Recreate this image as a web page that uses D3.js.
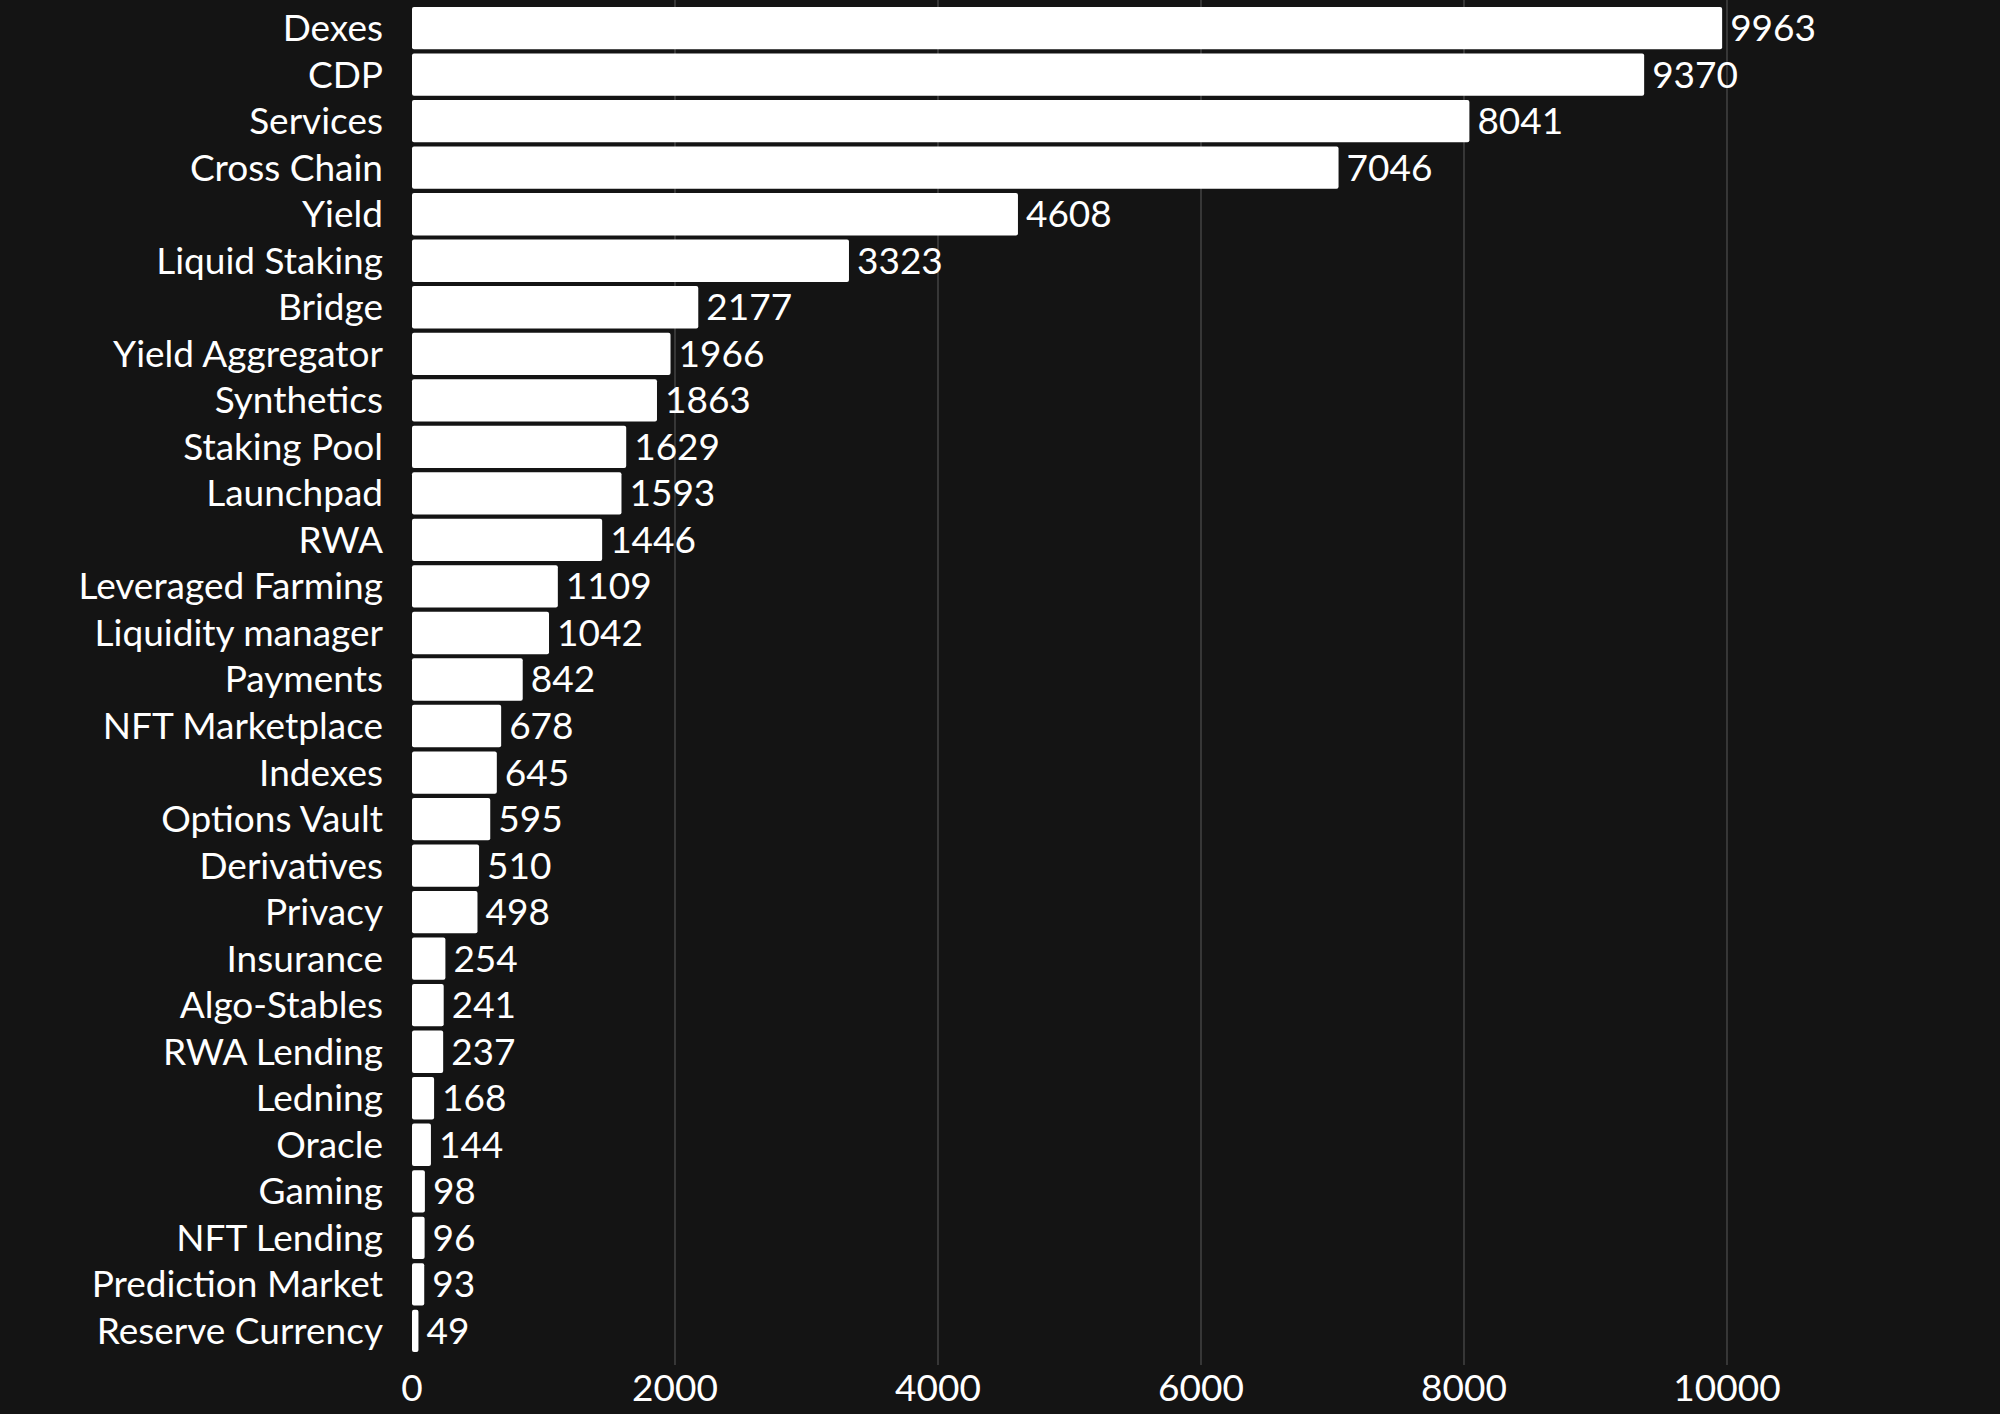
<!DOCTYPE html>
<html><head><meta charset="utf-8">
<script src="https://cdn.jsdelivr.net/npm/d3@7"></script>
<style>body{margin:0;background:#141414}</style></head>
<body><svg id="c" width="2000" height="1414"></svg>
<script>
const categories=["Dexes","CDP","Services","Cross Chain","Yield","Liquid Staking","Bridge","Yield Aggregator","Synthetics","Staking Pool","Launchpad","RWA","Leveraged Farming","Liquidity manager","Payments","NFT Marketplace","Indexes","Options Vault","Derivatives","Privacy","Insurance","Algo-Stables","RWA Lending","Ledning","Oracle","Gaming","NFT Lending","Prediction Market","Reserve Currency"];
const values=[9963,9370,8041,7046,4608,3323,2177,1966,1863,1629,1593,1446,1109,1042,842,678,645,595,510,498,254,241,237,168,144,98,96,93,49];
const ticks=[0,2000,4000,6000,8000,10000];
const svg=d3.select("#c");
svg.append("rect").attr("width",2000).attr("height",1414).attr("fill","#141414");
const x=d3.scaleLinear().domain([0,10000]).range([412,1727]);
const y=d3.scaleBand().domain(categories).range([6,1353]).paddingInner(0.09).paddingOuter(0.02);
const font="Lato, 'Open Sans', sans-serif";
svg.selectAll("line.g").data(ticks.slice(1)).enter().append("line")
 .attr("x1",d=>x(d)).attr("x2",d=>x(d)).attr("y1",0).attr("y2",1365)
 .attr("stroke","#4a4a4a").attr("stroke-width",1.3);
svg.selectAll("rect.b").data(values).enter().append("rect")
 .attr("x",x(0)).attr("y",(d,i)=>y(categories[i])).attr("width",d=>x(d)-x(0)).attr("height",y.bandwidth())
 .attr("fill","#fff").attr("rx",2);
svg.selectAll("text.v").data(values).enter().append("text")
 .attr("x",d=>x(d)+8).attr("y",(d,i)=>y(categories[i])+y.bandwidth()/2).attr("dy","0.35em")
 .attr("fill","#fff").attr("font-size",37).attr("font-family",font).text(d=>d);
svg.selectAll("text.c").data(categories).enter().append("text")
 .attr("x",383).attr("y",d=>y(d)+y.bandwidth()/2).attr("dy","0.35em").attr("text-anchor","end")
 .attr("fill","#fff").attr("font-size",37).attr("font-family",font).text(d=>d);
svg.selectAll("text.t").data(ticks).enter().append("text")
 .attr("x",d=>x(d)).attr("y",1388).attr("dy","0.35em").attr("text-anchor","middle")
 .attr("fill","#fff").attr("font-size",37).attr("font-family",font).text(d=>d);
</script></body></html>
